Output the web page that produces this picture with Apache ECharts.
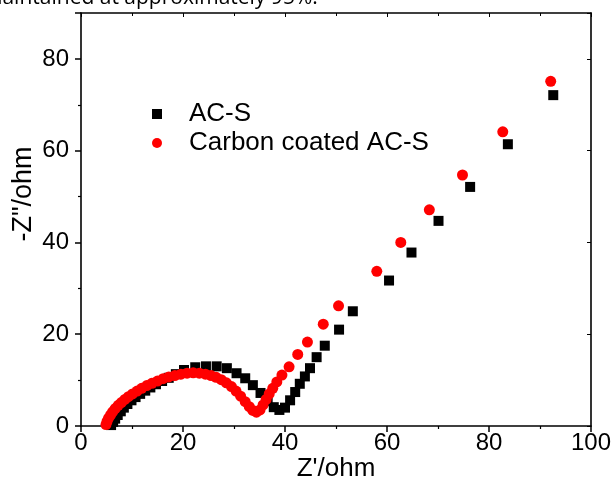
<!DOCTYPE html>
<html>
<head>
<meta charset="utf-8">
<script src="https://cdn.jsdelivr.net/npm/echarts@6/dist/echarts.min.js"></script>
<style>
html,body{margin:0;padding:0;background:#fff;}
#c{width:614px;height:481px;}
</style>
</head>
<body>
<div id="c"></div>
<script>
// AC-S (black squares): Z' (ohm), -Z'' (ohm)
const acsX = [5.9,6.3,6.7,7.2,7.8,8.4,9.1,9.9,10.7,11.6,12.6,13.6,14.7,15.9,17.2,18.6,20.2,22.4,24.5,26.6,28.6,30.5,32.2,33.7,35.2,36.6,37.8,38.9,40.0,41.0,42.0,42.9,43.9,44.9,46.2,47.8,50.6,53.3,60.4,64.8,70.1,76.3,83.7,92.6];
const acsY = [0.2,0.9,1.6,2.4,3.2,4.0,4.8,5.6,6.3,7.0,7.7,8.4,9.1,9.8,10.5,11.3,12.2,12.8,13.0,13.0,12.6,11.5,10.4,8.9,7.2,5.4,4.1,3.5,4.0,5.6,7.4,9.2,10.8,12.6,15.0,17.5,21.0,25.0,31.7,37.8,44.7,52.1,61.4,72.1];
// Carbon coated AC-S (red circles)
const ccX = [4.9,5.1,5.4,5.8,6.2,6.7,7.3,7.9,8.6,9.3,10.1,11.0,11.9,12.9,13.9,15.0,16.1,17.2,18.4,19.6,20.8,22.0,23.2,24.4,25.5,26.5,27.5,28.5,29.5,30.4,31.3,32.2,33.0,33.7,34.4,35.1,35.7,36.3,36.9,37.6,38.4,39.4,40.8,42.5,44.4,47.5,50.5,58.0,62.7,68.3,74.8,82.7,92.1];
const ccY = [0.3,1.0,1.7,2.4,3.1,3.8,4.5,5.1,5.8,6.4,7.0,7.6,8.2,8.8,9.3,9.8,10.3,10.7,11.0,11.3,11.5,11.6,11.5,11.3,11.0,10.6,10.1,9.4,8.6,7.6,6.5,5.3,4.2,3.4,3.0,3.5,4.6,5.8,7.0,8.2,9.6,11.1,12.9,15.6,18.3,22.2,26.2,33.7,40.0,47.1,54.7,64.1,75.1];
const seriesNames = ['AC-S', 'Carbon coated AC-S'];
const xTitle = "Z'/ohm";
const yTitle = '-Z"/ohm';
const captionText = 'maintained at approximately 95%.';

const zip = (a, b) => a.map((v, i) => [v, b[i]]);
const FONT = 'Liberation Sans';
const axisLine = {show: true, onZero: false, lineStyle: {color: '#000', width: 1.6}};

const chart = echarts.init(document.getElementById('c'), null, {renderer: 'canvas'});
chart.setOption({
  animation: false,
  backgroundColor: '#fff',
  grid: {left: 81, right: 23, top: 13, bottom: 55, containLabel: false, outerBoundsMode: 'none'},
  legend: {
    orient: 'vertical', left: 147, top: 96, itemGap: 3,
    itemWidth: 10, itemHeight: 10,
    textStyle: {fontFamily: FONT, fontSize: 26, color: '#000', padding: [0, 0, 0, 22]},
    data: [{name: seriesNames[0], icon: 'rect'}, {name: seriesNames[1], icon: 'circle'}]
  },
  xAxis: [{
    type: 'value', min: 0, max: 100, interval: 20, position: 'bottom',
    axisLine: axisLine,
    axisTick: {show: true, inside: false, length: 6, lineStyle: {color: '#000', width: 1.5}},
    minorTick: {show: true, splitNumber: 2, length: 3, lineStyle: {color: '#000', width: 1.2}},
    axisLabel: {fontFamily: FONT, fontSize: 24, color: '#000', margin: 5},
    splitLine: {show: false}
  }, {
    type: 'value', min: 0, max: 100, interval: 20, position: 'top',
    axisLine: axisLine,
    axisTick: {show: true, inside: true, length: 4, lineStyle: {color: '#000', width: 1}},
    minorTick: {show: true, splitNumber: 2, length: 3, lineStyle: {color: '#000', width: 1}},
    axisLabel: {show: false}, splitLine: {show: false}
  }],
  yAxis: [{
    type: 'value', min: 0, max: 90, interval: 20, position: 'left',
    axisLine: axisLine,
    axisTick: {show: true, inside: false, length: 6, lineStyle: {color: '#000', width: 1.5}},
    minorTick: {show: true, splitNumber: 2, length: 3, lineStyle: {color: '#000', width: 1.2}},
    axisLabel: {fontFamily: FONT, fontSize: 24, color: '#000', margin: 12, showMaxLabel: false},
    splitLine: {show: false}
  }, {
    type: 'value', min: 0, max: 90, interval: 20, position: 'right',
    axisLine: axisLine,
    axisTick: {show: true, inside: true, length: 4, lineStyle: {color: '#000', width: 1}},
    minorTick: {show: false},
    axisLabel: {show: false}, splitLine: {show: false}
  }],
  series: [{
    name: seriesNames[0], type: 'scatter', symbol: 'rect', symbolSize: 10,
    itemStyle: {color: '#000', opacity: 1}, data: zip(acsX, acsY), z: 2
  }, {
    name: seriesNames[1], type: 'scatter', symbol: 'circle', symbolSize: 11,
    itemStyle: {color: '#ff0000', opacity: 1}, data: zip(ccX, ccY), z: 3
  }],
  graphic: [{
    type: 'text', silent: true, x: 24, y: 194, rotation: Math.PI / 2,
    style: {text: yTitle, font: '27px "Liberation Sans"', fill: '#000', align: 'center', verticalAlign: 'middle'}
  }, {
    type: 'text', silent: true, x: 336, y: 469,
    style: {text: xTitle, font: '26px "Liberation Sans"', fill: '#000', align: 'center', verticalAlign: 'middle'}
  }, {
    type: 'text', silent: true, x: -17, y: -2,
    style: {text: captionText, font: '21px "Open Sans"', fill: '#000', align: 'left', verticalAlign: 'middle'}
  }]
});
</script>
</body>
</html>
